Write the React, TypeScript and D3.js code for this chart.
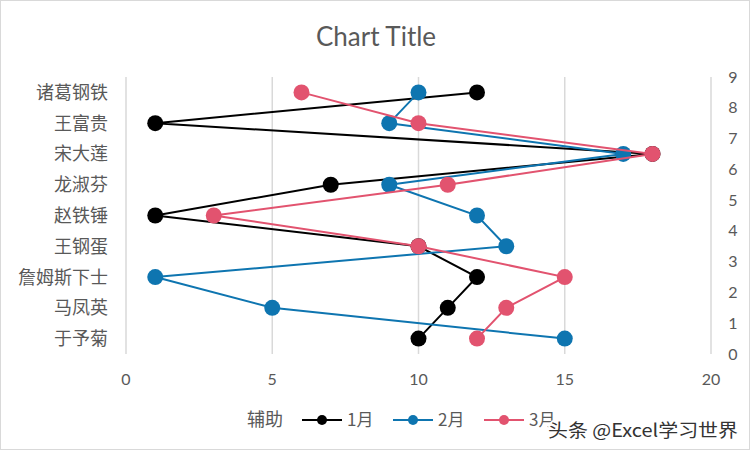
import * as d3 from "d3";

// bottom to top along the category axis
const categories = ["于予菊", "马凤英", "詹姆斯下士", "王钢蛋", "赵铁锤", "龙淑芬", "宋大莲", "王富贵", "诸葛钢铁"];
const jan = [10, 11, 12, 10, 1, 7, 18, 1, 12];
const feb = [15, 5, 1, 13, 12, 9, 17, 9, 10];
const mar = [12, 13, 15, 10, 3, 11, 18, 10, 6];
const xTicks = [0, 5, 10, 15, 20];
const yTicks = [0, 1, 2, 3, 4, 5, 6, 7, 8, 9];

const W = 752;
const H = 452;
const cjk = "'Noto Sans CJK SC', sans-serif";
const latin = "Lato, 'Noto Sans CJK SC', sans-serif";
const textColor = "#595959";

const series = [
  { name: "1月", values: jan, color: "#000000" },
  { name: "2月", values: feb, color: "#0e75b0" },
  { name: "3月", values: mar, color: "#e2536f" },
];

const App = () => {
  const x = d3.scaleLinear().domain([0, 20]).range([126, 711]);
  const y = d3.scaleLinear().domain([0, 9]).range([354, 77]);
  const catY = (i: number) => y(i + 0.5);

  const line = d3
    .line<number>()
    .x((d) => x(d))
    .y((_, i) => catY(i));

  const legendItems = [
    { name: "1月", color: series[0].color, x: 302 },
    { name: "2月", color: series[1].color, x: 393 },
    { name: "3月", color: series[2].color, x: 484 },
  ];

  return (
    <svg
      width={W}
      height={H}
      viewBox={`0 0 ${W} ${H}`}
      style={{ position: "absolute", left: 0, top: 0, background: "#fff" }}
    >
      <rect x={0.5} y={0.5} width={749} height={449} fill="#fff" stroke="#d9d9d9" />
      <text x={376} y={46} textAnchor="middle" fontSize={26} fill={textColor} fontFamily={latin}>
        Chart Title
      </text>

      {/* gridlines */}
      {xTicks.map((t) => (
        <line key={t} x1={x(t)} x2={x(t)} y1={y(9)} y2={y(0)} stroke="#d9d9d9" strokeWidth={1.5} />
      ))}

      {/* x tick labels */}
      {xTicks.map((t) => (
        <text key={t} x={x(t)} y={385} textAnchor="middle" fontSize={16} fill={textColor} fontFamily={latin}>
          {t}
        </text>
      ))}

      {/* right axis labels */}
      {yTicks.map((t) => (
        <text key={t} x={733} y={y(t) + 5.5} textAnchor="middle" fontSize={16} fill={textColor} fontFamily={latin}>
          {t}
        </text>
      ))}

      {/* category labels */}
      {categories.map((c, i) => (
        <text key={c} x={108} y={catY(i) + 6.5} textAnchor="end" fontSize={18} fill={textColor} fontFamily={cjk}>
          {c}
        </text>
      ))}

      {series.map((s) => (
        <g key={s.name}>
          <path d={line(s.values) ?? ""} fill="none" stroke={s.color} strokeWidth={2} />
          {s.values.map((v, i) => (
            <circle key={i} cx={x(v)} cy={catY(i)} r={8} fill={s.color} />
          ))}
        </g>
      ))}

      {/* legend */}
      <text x={247} y={426} fontSize={18} fill={textColor} fontFamily={cjk}>
        辅助
      </text>
      {legendItems.map((l) => (
        <g key={l.name}>
          <line x1={l.x} x2={l.x + 40} y1={420} y2={420} stroke={l.color} strokeWidth={2} />
          <circle cx={l.x + 20} cy={420} r={5} fill={l.color} />
          <text x={l.x + 45} y={426} fontSize={17} fill={textColor} fontFamily={cjk}>
            {l.name}
          </text>
        </g>
      ))}

      {/* watermark */}
      <text
        x={548}
        y={437}
        fontSize={18}
        fill="#333"
        stroke="#fff"
        strokeWidth={3}
        paintOrder="stroke"
        fontFamily={cjk}
        textLength={190}
        lengthAdjust="spacingAndGlyphs"
      >
        头条 @Excel学习世界
      </text>
    </svg>
  );
};

export default App;
